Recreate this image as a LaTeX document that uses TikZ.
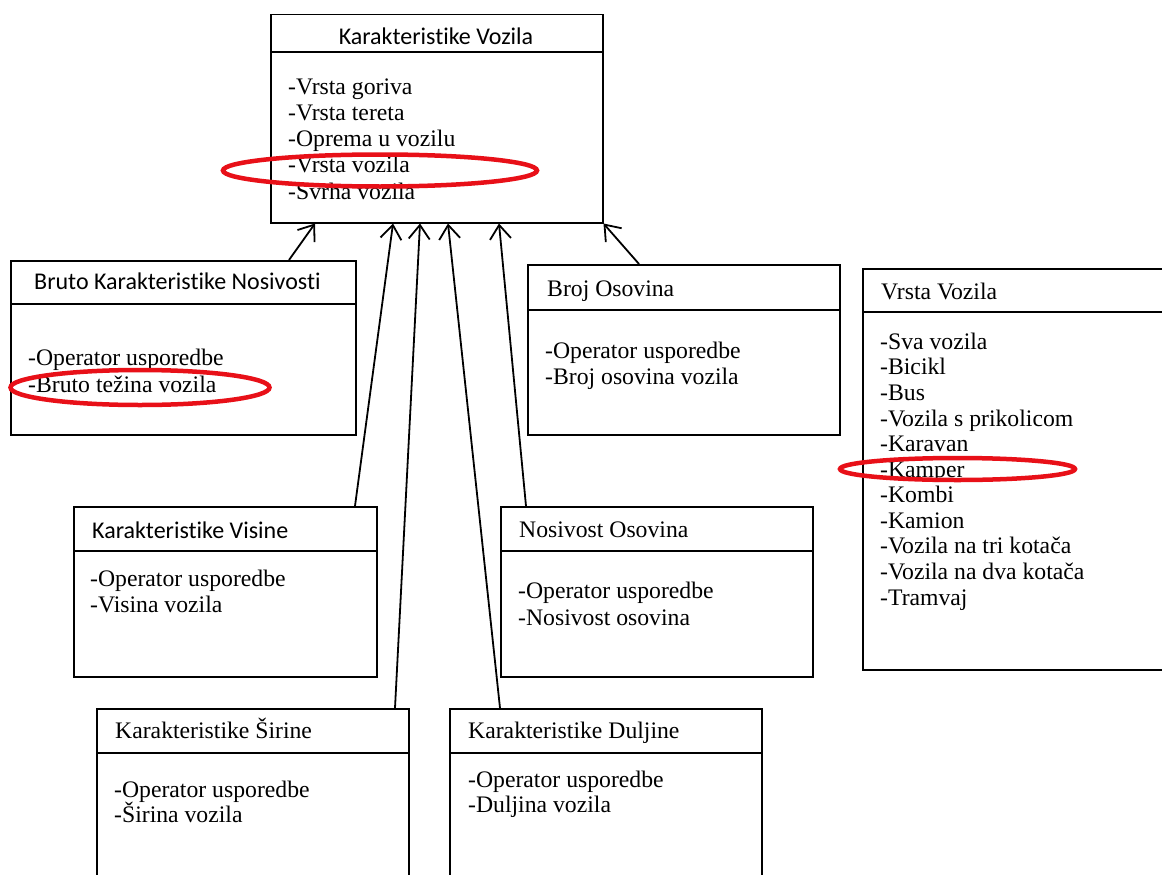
\documentclass[tikz,border=0pt]{standalone}
\usepackage{fontspec}
\setmainfont{Liberation Serif}
\newfontfamily\calib[RawFeature=-liga]{Carlito}
\usetikzlibrary{arrows.meta,calc}
\definecolor{ringred}{RGB}{232,16,24}
\tikzset{
  umlbox/.style={draw, line width=1.5pt, inner sep=0pt, anchor=north west, fill=white},
  divider/.style={line width=1.5pt},
  item/.style={anchor=base west, inner sep=0pt, font=\fontsize{23.7}{26}\selectfont},
  stitle/.style={anchor=base west, inner sep=0pt, font=\calib\fontsize{24}{26}\selectfont},
  arr/.style={line width=1.8pt, -{Straight Barb[length=14pt,width=21pt]}},
  redring/.style={draw=ringred, line width=4.5pt}
}
\begin{document}
\begin{tikzpicture}[x=1pt,y=-1pt]
\useasboundingbox (0,0) rectangle (1162,875);
\clip (0,0) rectangle (1162,875);

% boxes
\node[umlbox, minimum width=332pt, minimum height=208pt] (kv) at (270,14) {};
\node[umlbox, minimum width=345pt, minimum height=174pt] (bruto) at (10,260) {};
\node[umlbox, minimum width=312pt, minimum height=170pt] (broj) at (527,264) {};
\node[umlbox, minimum width=320pt, minimum height=401pt] (vrsta) at (862,268) {};
\node[umlbox, minimum width=303pt, minimum height=170pt] (visine) at (73,506) {};
\node[umlbox, minimum width=312pt, minimum height=170pt] (nosivost) at (500,506) {};
\node[umlbox, minimum width=312pt, minimum height=190pt] (sirine) at (96,708) {};
\node[umlbox, minimum width=312pt, minimum height=190pt] (duljine) at (449,708) {};

% dividers
\draw[divider] (kv.west |- 0,52) -- (kv.east |- 0,52);
\draw[divider] (bruto.west |- 0,304) -- (bruto.east |- 0,304);
\draw[divider] (broj.west |- 0,310) -- (broj.east |- 0,310);
\draw[divider] (vrsta.west |- 0,312) -- (vrsta.east |- 0,312);
\draw[divider] (visine.west |- 0,551) -- (visine.east |- 0,551);
\draw[divider] (nosivost.west |- 0,551) -- (nosivost.east |- 0,551);
\draw[divider] (sirine.west |- 0,753) -- (sirine.east |- 0,753);
\draw[divider] (duljine.west |- 0,753) -- (duljine.east |- 0,753);

% titles
\node[stitle, anchor=base] (kvt) at (436,44.3) {Karakteristike Vozila};
\node[stitle] (brutot) at (34,289.3) {Bruto Karakteristike Nosivosti};
\node[item] (brojt) at (547,296) {Broj Osovina};
\node[item] (vrstat) at (881,299.3) {Vrsta Vozila};
\node[stitle] (visinet) at (92,538) {Karakteristike Visine};
\node[item] (nosivostt) at (519,537) {Nosivost Osovina};
\node[item] (sirinet) at (115,738) {Karakteristike Širine};
\node[item] (duljinet) at (468,738) {Karakteristike Duljine};

% items
\foreach \t [count=\i] in {-Vrsta goriva,-Vrsta tereta,-Oprema u vozilu,-Vrsta vozila,-Svrha vozila}
  \node[item] (kvi\i) at (288,94.3+26.2*\i-26.2) {\t};
\node[item] (brutoa) at (28,365) {-Operator usporedbe};
\node[item] (brutob) at (28,392) {-Bruto težina vozila};
\node[item] (broja) at (545,358) {-Operator usporedbe};
\node[item] (brojb) at (545,384) {-Broj osovina vozila};
\foreach \t [count=\i] in {-Sva vozila,-Bicikl,-Bus,-Vozila s prikolicom,-Karavan,-Kamper,-Kombi,-Kamion,-Vozila na tri kotača,-Vozila na dva kotača,-Tramvaj}
  \node[item] (vrstai\i) at (880,349.3+25.57*\i-25.57) {\t};
\node[item] (visinea) at (90,586) {-Operator usporedbe};
\node[item] (visineb) at (90,612) {-Visina vozila};
\node[item] (nosivosta) at (518,598) {-Operator usporedbe};
\node[item] (nosivostb) at (518,625) {-Nosivost osovina};
\node[item] (sirinea) at (114,797) {-Operator usporedbe};
\node[item] (sirineb) at (114,822) {-Širina vozila};
\node[item] (duljinea) at (468,787) {-Operator usporedbe};
\node[item] (duljineb) at (468,812) {-Duljina vozila};

% connectors
\draw[arr] ([xshift=279pt]bruto.north west) -- ([xshift=45pt]kv.south west);
\draw[arr] ([xshift=282pt]visine.north west) -- ([xshift=123pt]kv.south west);
\draw[arr] ([xshift=299pt]sirine.north west) -- ([xshift=150pt]kv.south west);
\draw[arr] ([xshift=51pt]duljine.north west) -- ([xshift=178pt]kv.south west);
\draw[arr] ([xshift=26pt]nosivost.north west) -- ([xshift=229pt]kv.south west);
\draw[arr] ([xshift=112pt]broj.north west) -- (kv.south east);

% red highlight rings
\draw[redring] (380,170.5) ellipse [x radius=157pt, y radius=16pt];
\draw[redring] (140,387.5) ellipse [x radius=129.5pt, y radius=17.5pt];
\draw[redring] (957.5,469) ellipse [x radius=117.5pt, y radius=11pt];
\end{tikzpicture}
\end{document}
